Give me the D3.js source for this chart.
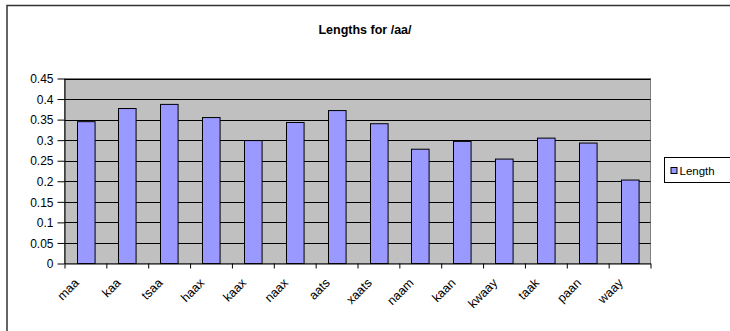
<!DOCTYPE html>
<html lang="en">
<head>
<meta charset="UTF-8">
<title>Lengths for /aa/</title>
<script src="https://cdn.jsdelivr.net/npm/d3@7/dist/d3.min.js"></script>
<style>
  body { margin: 0; background: #fff; }
  text { font-family: "Liberation Sans", Arial, sans-serif; fill: #000; }
</style>
</head>
<body>
<svg id="chart" width="730" height="331"></svg>
<script>
var words = ["maa", "kaa", "tsaa", "haax", "kaax", "naax", "aats", "xaats", "naam", "kaan", "kwaay", "taak", "paan", "waay"];
var lengths = [0.345, 0.377, 0.387, 0.355, 0.299, 0.343, 0.372, 0.340, 0.278, 0.297, 0.254, 0.305, 0.293, 0.203];
var yTicks = [0, 0.05, 0.1, 0.15, 0.2, 0.25, 0.3, 0.35, 0.4, 0.45];

var svg = d3.select("#chart");
var plotL = 64.5, plotR = 650.5, plotT = 78.5, plotB = 263.5;

// outer chart border (runs off right/bottom edge like the original)
svg.append("rect")
  .attr("x", 7).attr("y", 5.5)
  .attr("width", 740).attr("height", 340)
  .attr("fill", "#fff").attr("stroke", "#333").attr("stroke-width", 1.5);

svg.append("text")
  .attr("x", 365).attr("y", 34)
  .attr("text-anchor", "middle")
  .style("font-size", "12.5px").style("font-weight", "bold")
  .text("Lengths for /aa/");

var x = d3.scaleBand().domain(words).range([plotL, plotR])
  .paddingInner(0.58).paddingOuter(0.29);
var xTick = d3.scaleLinear().domain([0, words.length]).range([plotL, plotR]);
var y = d3.scaleLinear().domain([0, 0.45]).range([plotB, plotT]);

// plot area
svg.append("rect")
  .attr("x", plotL).attr("y", plotT)
  .attr("width", plotR - plotL).attr("height", plotB - plotT)
  .attr("fill", "#c0c0c0").attr("stroke", "#808080");

svg.append("g").selectAll("line")
  .data(yTicks.slice(1))
  .enter().append("line")
  .attr("x1", plotL).attr("x2", plotR)
  .attr("y1", d => Math.round(y(d)) + 0.5).attr("y2", d => Math.round(y(d)) + 0.5)
  .attr("stroke", "#000");

svg.append("g").selectAll("rect")
  .data(lengths)
  .enter().append("rect")
  .attr("x", (d, i) => Math.round(x(words[i])) + 0.5)
  .attr("width", x.bandwidth())
  .attr("y", d => y(d))
  .attr("height", d => plotB - y(d))
  .attr("fill", "#9999ff").attr("stroke", "#000");

// y axis
var yAxis = svg.append("g")
  .attr("transform", "translate(" + plotL + ",0)")
  .call(d3.axisLeft(y).tickValues(yTicks).tickSize(7).tickSizeOuter(0)
    .tickFormat(d => String(+d.toFixed(2))));
yAxis.selectAll("text").style("font-size", "12px").attr("x", -11).attr("dy", "0.35em");
yAxis.selectAll("line, path").attr("stroke", "#000");

// x axis with tick marks between categories
var xAxis = svg.append("g")
  .attr("transform", "translate(0," + plotB + ")")
  .call(d3.axisBottom(xTick).tickValues(d3.range(words.length + 1)).tickSize(5).tickSizeOuter(0).tickFormat(""));
xAxis.selectAll("line, path").attr("stroke", "#000");

svg.append("g").selectAll("text")
  .data(words)
  .enter().append("text")
  .attr("transform", d => "translate(" + (x(d) + x.bandwidth() / 2 - 12) + "," + (plotB + 14) + ") rotate(-45)")
  .attr("text-anchor", "end")
  .attr("dy", "0.7em")
  .style("font-size", "12.5px")
  .text(d => d);

// legend
var legend = svg.append("g").attr("transform", "translate(664.5,157.5)");
legend.append("rect").attr("width", 80).attr("height", 25)
  .attr("fill", "#fff").attr("stroke", "#000");
legend.append("rect").attr("x", 6.5).attr("y", 10).attr("width", 6).attr("height", 6)
  .attr("fill", "#9999ff").attr("stroke", "#000");
legend.append("text").attr("x", 15).attr("y", 17.5)
  .style("font-size", "11.5px").text("Length");
</script>
</body>
</html>
